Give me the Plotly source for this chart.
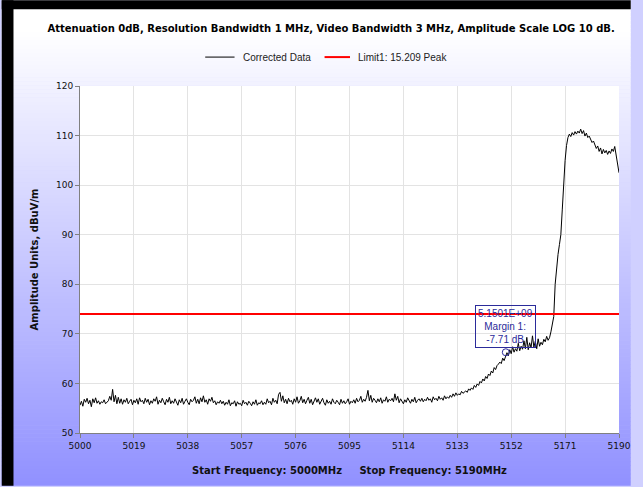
import numpy as np
import plotly.graph_objects as go

# Sweep settings
start_mhz = 5000.0
stop_mhz = 5190.0
step_mhz = 0.5

# Corrected trace, dBuV/m, one value every 0.5 MHz from 5000 to 5190 MHz
corrected_data = [
    55.6, 56.4, 55.4, 56.8, 56.2, 57.0, 55.9, 56.6, 55.3, 56.9, 56.1, 57.1, 56.0, 56.5, 55.8, 56.3, 56.1, 56.7, 55.9, 56.2,
    56.5, 57.4, 56.6, 58.8, 56.3, 57.6, 55.9, 57.2, 56.0, 56.9, 55.8, 56.7, 56.2, 57.0, 55.9, 56.4, 56.8, 55.7, 56.6, 56.1,
    56.9, 55.8, 57.1, 56.3, 56.6, 55.9, 57.0, 56.2, 56.8, 55.7, 56.5, 56.0, 56.9, 56.4, 57.3, 55.8, 56.6, 56.1, 57.0, 56.3,
    55.7, 56.8, 56.2, 57.2, 55.9, 56.5, 56.0, 56.9, 56.4, 55.6, 56.7, 56.1, 57.0, 55.8, 56.4, 56.9, 56.2, 55.7, 56.8, 56.3,
    56.6, 57.3, 56.0, 56.8, 55.9, 57.1, 56.3, 57.5, 56.2, 56.7, 55.8, 56.9, 56.4, 57.2, 56.1, 56.5, 55.7, 56.3, 56.0, 56.6,
    55.9, 56.4, 55.6, 56.2, 55.8, 56.7, 55.5, 56.1, 55.9, 56.5, 55.4, 56.3, 55.8, 56.0, 55.5, 56.6, 55.9, 56.2, 55.6, 56.4,
    56.0, 55.5, 56.3, 55.8, 56.7, 55.6, 56.1, 55.9, 56.5, 55.7, 56.2, 55.8, 56.9, 56.1, 56.4, 55.7, 57.0, 56.2, 56.6, 55.9,
    57.8, 58.2, 56.4, 57.5, 56.1, 56.8, 55.9, 57.0, 56.3, 56.6, 55.8, 56.9, 56.2, 57.3, 56.0, 56.5, 57.4, 56.1, 56.8, 55.9,
    56.6, 57.2, 56.0, 56.8, 55.7, 56.4, 57.1, 56.2, 56.9, 55.8, 56.5, 57.0, 56.1, 55.6, 56.7, 56.0, 56.4, 55.8, 56.9, 56.2,
    55.9, 56.6, 56.2, 55.7, 56.8, 56.0, 56.5, 55.9, 56.3, 56.9, 55.8, 56.4, 56.1, 56.7, 56.0, 57.0, 56.3, 56.6, 57.4, 56.2,
    56.8, 56.4, 57.2, 58.6, 56.5, 57.6, 56.2, 57.0, 56.6, 56.1, 56.9, 56.3, 57.1, 56.0, 56.7, 56.4, 57.3, 56.2, 56.8, 56.5,
    57.0, 56.3, 57.9, 56.6, 57.4, 56.1, 56.9, 56.4, 55.9, 56.7, 56.2, 57.1, 56.5, 56.0, 56.8, 56.3, 57.2, 56.1, 56.6, 56.9,
    56.4, 57.0, 56.3, 56.8, 56.5, 57.2, 56.6, 56.9, 56.2, 57.3, 56.7, 57.0, 56.5, 57.4, 56.8, 57.1, 56.6, 57.5, 56.9, 57.3,
    57.0, 57.6, 57.2, 57.9, 57.4, 58.1, 57.6, 57.9, 57.7, 58.4, 58.0, 58.3, 58.5, 58.2, 58.9, 58.6, 59.1, 58.8, 59.6, 59.2,
    59.9, 59.6, 60.4, 60.1, 60.9, 60.5, 61.4, 61.0, 61.9, 61.6, 62.5, 62.1, 63.2, 62.8, 63.6, 63.9, 64.3, 64.0, 65.1, 64.6,
    65.3, 66.2, 65.6, 66.8, 66.0, 67.4, 66.3, 67.0, 66.5, 68.1, 66.6, 67.5, 66.9, 68.6, 67.0, 69.3, 66.8, 68.2, 67.2, 69.6,
    67.3, 68.5, 67.0, 69.0, 67.5, 68.3, 67.8, 68.9, 68.4, 69.5, 68.7, 69.2, 70.4, 71.8, 73.5, 80.0, 84.0, 86.0, 88.0, 90.0,
    95.0, 101.0, 105.0, 108.0, 109.6, 110.3, 109.8, 110.6, 110.1, 110.8, 110.3, 110.9, 110.5, 111.3, 110.4, 111.0, 109.9, 110.5, 109.6, 109.9,
    109.2, 108.6, 108.9, 108.1, 107.4, 107.9, 106.8, 107.5, 106.3, 107.2, 106.5, 107.0, 106.2, 106.9, 106.4, 107.3, 106.8, 107.8, 106.0, 104.5,
    102.5,
]

# Limit line and margin marker
limit_level = 74.0
limit_label = "Limit1: 15.209 Peak"
trace_label = "Corrected Data"
marker_freq_hz = 5.1501e9
marker_level = 66.29

x_ticks = [5000, 5019, 5038, 5057, 5076, 5095, 5114, 5133, 5152, 5171, 5190]
y_ticks = [50, 60, 70, 80, 90, 100, 110, 120]

freqs = start_mhz + step_mhz * np.arange(len(corrected_data))
margin_db = marker_level - limit_level

W, H = 643, 487
ML, MR, MT, MB = 80, 12, 86, 53
PW, PH = W - ML - MR, H - MT - MB


def px_x(px):
    return (px - ML) / PW


def px_y(py):
    return (H - MB - py) / PH


fig = go.Figure()

fig.add_trace(go.Scatter(
    x=freqs, y=corrected_data, mode="lines", name=trace_label,
    line=dict(color="black", width=1),
))
fig.add_trace(go.Scatter(
    x=[start_mhz, stop_mhz], y=[limit_level, limit_level], mode="lines",
    name=limit_label, line=dict(color="#ff0000", width=2),
))
fig.add_trace(go.Scatter(
    x=[marker_freq_hz / 1e6], y=[marker_level], mode="markers", showlegend=False,
    marker=dict(symbol="circle-open", size=7, color="#2b2b9a", line=dict(width=1)),
))

fig.add_annotation(
    x=marker_freq_hz / 1e6 - 0.2, y=marker_level + 5.2, xref="x", yref="y",
    text=f"{marker_freq_hz:.4E}<br>Margin 1:<br>{margin_db:.2f} dB",
    showarrow=False, align="center",
    font=dict(family="Liberation Sans, Arial", size=10, color="#2b2b9a"),
    bordercolor="#2b2b9a", borderwidth=1, borderpad=2, bgcolor="rgba(0,0,0,0)",
)

# Background gradient, white near the top fading to periwinkle at the bottom
shapes = []
n_bands = 120
top_rgb = np.array([255, 255, 255])
bot_rgb = np.array([145, 145, 255])
for i in range(n_bands):
    y_top = H * i / n_bands
    y_bot = H * (i + 1) / n_bands
    t = max(0.0, ((y_top + y_bot) / 2 - 30) / (H - 30))
    r, g, b = (top_rgb + (bot_rgb - top_rgb) * t).round().astype(int)
    shapes.append(dict(
        type="rect", xref="paper", yref="paper",
        x0=px_x(0), x1=px_x(W), y0=px_y(min(y_bot + 0.5, H)), y1=px_y(y_top),
        fillcolor=f"rgb({r},{g},{b})", line=dict(width=0), layer="below",
    ))

# white plotting area
shapes.append(dict(type="rect", xref="paper", yref="paper", x0=0, x1=1, y0=0, y1=1,
                   fillcolor="white", line=dict(width=0), layer="below"))
# dark frame on the left and top edges
shapes.append(dict(type="rect", xref="paper", yref="paper", x0=px_x(0), x1=px_x(12),
                   y0=px_y(H), y1=px_y(0), fillcolor="black", line=dict(width=0), layer="above"))
shapes.append(dict(type="rect", xref="paper", yref="paper", x0=px_x(0), x1=px_x(W),
                   y0=px_y(9), y1=px_y(0), fillcolor="black", line=dict(width=0), layer="above"))

# Legend row drawn as line samples with text labels
legend_y = px_y(57)
legend_items = [
    (trace_label, "black", 1, 208, 238, 245),
    (limit_label, "#ff0000", 2, 330, 356, 362),
]
legend_font = dict(family="Liberation Sans, Arial", size=10, color="#222222")
for label, color, width, lx0, lx1, tx in legend_items:
    shapes.append(dict(type="line", xref="paper", yref="paper", x0=px_x(lx0), x1=px_x(lx1),
                       y0=legend_y, y1=legend_y, line=dict(color=color, width=width), layer="above"))
    fig.add_annotation(x=px_x(tx), y=legend_y, xref="paper", yref="paper", text=label,
                       showarrow=False, xanchor="left", yanchor="middle", font=legend_font)

tick_font = dict(family="DejaVu Sans", size=9, color="#111111")
axis_title_font = dict(family="DejaVu Sans", size=10, color="#111111", weight="bold")

fig.update_layout(
    width=W, height=H,
    margin=dict(l=ML, r=MR, t=MT, b=MB, pad=0),
    paper_bgcolor="#d0d0ff",
    plot_bgcolor="white",
    hovermode=False,
    shapes=shapes,
    showlegend=False,
    title=dict(
        text="Attenuation 0dB, Resolution Bandwidth 1 MHz, Video Bandwidth 3 MHz, Amplitude Scale LOG 10 dB.",
        x=0.515, xanchor="center", y=1 - 28 / H, yanchor="middle",
        font=dict(family="DejaVu Sans", size=10, color="black", weight="bold"),
    ),
    xaxis=dict(
        range=[start_mhz, stop_mhz], tickvals=x_ticks, ticktext=[str(t) for t in x_ticks],
        showgrid=True, gridcolor="#e3e3e3", gridwidth=1, zeroline=False,
        showline=True, linecolor="#808080", linewidth=1, ticklabeloverflow="allow",
        ticks="outside", ticklen=4, tickcolor="#808080", tickfont=tick_font,
        title=dict(text="Start Frequency: 5000MHz&nbsp;&nbsp;&nbsp;&nbsp;&nbsp;Stop Frequency: 5190MHz",
                   font=axis_title_font, standoff=17),
    ),
    yaxis=dict(
        range=[50, 120], tickvals=y_ticks, showgrid=True, gridcolor="#e3e3e3", gridwidth=1,
        zeroline=False, showline=True, linecolor="#808080", linewidth=1,
        ticks="outside", ticklen=4, tickcolor="#808080", tickfont=tick_font,
        title=dict(text="Amplitude Units, dBuV/m", font=axis_title_font, standoff=15),
    ),
)

# keep the page exactly the size of the figure (no body margin or scrollbars)
page_css = (
    "document.documentElement.style.overflow='hidden';"
    "document.body.style.margin='0';"
    "document.body.style.overflow='hidden';"
)
fig.write_html("out.html", config={"staticPlot": True, "displayModeBar": False},
               post_script=page_css)
